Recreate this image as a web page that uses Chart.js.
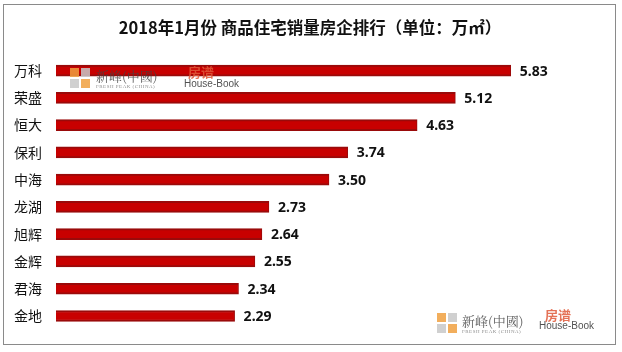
<!DOCTYPE html>
<html>
<head>
<meta charset="utf-8">
<script src="https://cdn.jsdelivr.net/npm/chart.js@4"></script>
<style>
    html, body { margin: 0; padding: 0; background: #fff; }
    #wrap { position: relative; width: 622px; height: 352px; overflow: hidden; }
    #frame {
        position: absolute; left: 3px; top: 4px; width: 611px; height: 339px;
        border: 1.5px solid #8a8a8a;
    }
    canvas { position: absolute; left: 0; top: 0; }
    .logo { position: absolute; font-family: "Noto Sans CJK SC", sans-serif; opacity: 0.85; }
    .sq { position: absolute; width: 9px; height: 9px; background: #f0a040; }
    .sq.g { background: #c8c8c8; }
    .cn { position: absolute; font-family: "Noto Serif CJK SC", "Noto Sans CJK SC", serif; font-size: 13px; color: #444; white-space: nowrap; }
    .en { position: absolute; font-family: "Liberation Serif", serif; font-size: 5px; color: #777; white-space: nowrap; letter-spacing: 0.5px; }
    .fp { position: absolute; font-size: 13px; color: #e05a3a; font-weight: bold; white-space: nowrap; }
    .hb { position: absolute; font-family: "Liberation Sans", sans-serif; font-size: 10px; color: #333; white-space: nowrap; }
</style>
</head>
<body>
<div id="wrap">
    <div id="frame"></div>
    <canvas id="rankChart" width="622" height="352"></canvas>

    <!-- watermark near the top bar -->
    <div class="logo" style="left:70px; top:68px;">
        <div class="sq" style="left:0; top:0;"></div>
        <div class="sq g" style="left:11px; top:0;"></div>
        <div class="sq g" style="left:0; top:11px;"></div>
        <div class="sq" style="left:11px; top:11px;"></div>
        <div class="cn" style="left:26px; top:-2px;">新峰(中國)</div>
        <div class="en" style="left:26px; top:16px;">FRESH PEAK (CHINA)</div>
        <div class="fp" style="left:118px; top:-6px;">房谱</div>
        <div class="hb" style="left:114px; top:10px;">House-Book</div>
    </div>

    <!-- watermark bottom right -->
    <div class="logo" style="left:437px; top:313px;">
        <div class="sq" style="left:0; top:0;"></div>
        <div class="sq g" style="left:11px; top:0;"></div>
        <div class="sq g" style="left:0; top:11px;"></div>
        <div class="sq" style="left:11px; top:11px;"></div>
        <div class="cn" style="left:25px; top:-2px;">新峰(中國)</div>
        <div class="en" style="left:25px; top:16px;">FRESH PEAK (CHINA)</div>
        <div class="fp" style="left:108px; top:-8px;">房谱</div>
        <div class="hb" style="left:102px; top:7px;">House-Book</div>
    </div>
</div>
<script>
// Data
const companies = ['万科', '荣盛', '恒大', '保利', '中海', '龙湖', '旭辉', '金辉', '君海', '金地'];
const salesArea = [5.83, 5.12, 4.63, 3.74, 3.50, 2.73, 2.64, 2.55, 2.34, 2.29];
const chartTitle = '2018年1月份 商品住宅销量房企排行（单位：万㎡）';

const cjkFont = '"Noto Sans CJK SC", "Noto Sans", sans-serif';

// title centred on the whole frame, not on the padded layout box
const frameTitle = {
    id: 'frameTitle',
    afterDraw(chart) {
        const ctx = chart.ctx;
        ctx.save();
        ctx.font = 'bold 16.5px ' + cjkFont;
        ctx.fillStyle = '#111';
        ctx.textAlign = 'center';
        ctx.textBaseline = 'middle';
        ctx.fillText(chartTitle, 310, 28);
        ctx.restore();
    }
};

// value labels at the end of each bar
const valueLabels = {
    id: 'valueLabels',
    afterDatasetsDraw(chart) {
        const ctx = chart.ctx;
        const meta = chart.getDatasetMeta(0);
        ctx.save();
        ctx.font = 'bold 14px "Noto Sans", sans-serif';
        ctx.fillStyle = '#111';
        ctx.textAlign = 'left';
        ctx.textBaseline = 'middle';
        meta.data.forEach((bar, i) => {
            ctx.fillText(salesArea[i].toFixed(2), bar.x + 9, bar.y + 1);
        });
        ctx.restore();
    }
};

const rankCtx = document.getElementById('rankChart').getContext('2d');
new Chart(rankCtx, {
    type: 'bar',
    data: {
        labels: companies,
        datasets: [{
            data: salesArea,
            backgroundColor: '#c80000',
            borderColor: '#9a0a0a',
            borderWidth: { top: 2, bottom: 2, left: 0, right: 1 },
            borderSkipped: false,
            barThickness: 11
        }]
    },
    options: {
        indexAxis: 'y',
        responsive: false,
        animation: false,
        layout: {
            padding: { left: 0, right: 20, top: 57, bottom: 22 }
        },
        plugins: {
            legend: { display: false },
            tooltip: { enabled: false },
            title: { display: false }
        },
        scales: {
            x: {
                display: false,
                min: 0,
                max: 7
            },
            y: {
                grid: { display: false, drawTicks: false },
                border: { display: false },
                ticks: {
                    color: '#111',
                    padding: 14,
                    font: { family: cjkFont, size: 14 }
                },
                afterFit(scale) {
                    scale.width = 56;
                }
            }
        }
    },
    plugins: [valueLabels, frameTitle]
});
</script>
</body>
</html>
